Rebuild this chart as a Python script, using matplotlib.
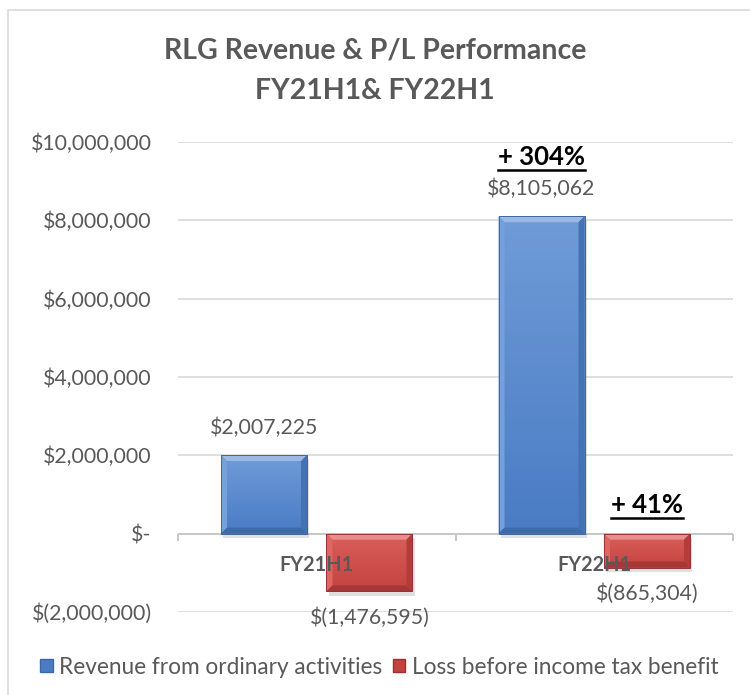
import numpy as np
import matplotlib
matplotlib.use("Agg")
import matplotlib.pyplot as plt
import matplotlib.patheffects as pe
from matplotlib.patches import Polygon, Patch, Rectangle
from matplotlib.lines import Line2D
from matplotlib.ticker import FuncFormatter, MultipleLocator

plt.rcParams['font.family'] = ['Lato', 'DejaVu Sans']

# data
categories = ['FY21H1', 'FY22H1']
series_names = ['Revenue from ordinary activities', 'Loss before income tax benefit']
revenue = [2007225, 8105062]
loss = [-1476595, -865304]
growth_labels = ['+ 304%', '+ 41%']   # FY22H1 vs FY21H1, per series
title_lines = ['RLG Revenue & P/L Performance', 'FY21H1& FY22H1']

GRAY = '#595959'
blue_top, blue_bot, blue_edge = '#6f9bd8', '#4a7cc4', '#3d67a3'
red_top, red_bot, red_edge = '#dc5f5a', '#c2423f', '#963230'

W, H = 750, 695
fig = plt.figure(figsize=(W / 100, H / 100), dpi=100)
ax = fig.add_axes([178 / W, 1 - 612 / H, (733 - 178) / W, (612 - 142) / H])

ax.set_xlim(-0.5, 1.5)
ax.set_ylim(-2e6, 1e7)


def money(v, pos=None):
    if v == 0:
        return '$-'
    if v < 0:
        return '$({:,.0f})'.format(-v)
    return '${:,.0f}'.format(v)


x = np.arange(len(categories))
bw = 0.31
off = 0.19
bars_rev = ax.bar(x - off, revenue, bw, color=blue_bot, edgecolor='none', zorder=3)
bars_loss = ax.bar(x + off, loss, bw, color=red_bot, edgecolor='none', zorder=3)


def shade(c, k):
    c = np.array(matplotlib.colors.to_rgb(c))
    if k > 0:
        return tuple(c + (1 - c) * k)
    return tuple(c * (1 + k))


def dress(bar, top, bot, edge):
    bar.set_path_effects([pe.SimplePatchShadow(offset=(1.5, -3), alpha=0.12, shadow_rgbFace='k'), pe.Normal()])
    bb = bar.get_bbox()
    x0, x1 = bb.x0, bb.x1
    y0, y1 = min(bb.y0, bb.y1), max(bb.y0, bb.y1)
    # vertical gradient inside the bar
    grad = np.linspace(0, 1, 64).reshape(-1, 1)
    cmap = matplotlib.colors.LinearSegmentedColormap.from_list('g', [bot, top])
    im = ax.imshow(grad, extent=[x0, x1, y0, y1], origin='lower', aspect='auto',
                   cmap=cmap, zorder=3.1)
    im.set_clip_path(bar)
    # bevel edges, a few px wide
    p = ax.transData.transform([[x0, y0], [x1, y1]])
    (X0, Y0), (X1, Y1) = p
    b = 6
    inv = ax.transData.inverted()
    faces = [
        ([(X0, Y1), (X1, Y1), (X1 - b, Y1 - b), (X0 + b, Y1 - b)], shade(top, 0.3)),
        ([(X0, Y0), (X0, Y1), (X0 + b, Y1 - b), (X0 + b, Y0 + b)], shade(top, 0.05)),
        ([(X1, Y0), (X1, Y1), (X1 - b, Y1 - b), (X1 - b, Y0 + b)], shade(bot, -0.08)),
        ([(X0, Y0), (X1, Y0), (X1 - b, Y0 + b), (X0 + b, Y0 + b)], shade(bot, -0.15)),
    ]
    for pts, c in faces:
        ax.add_patch(Polygon(inv.transform(pts), closed=True, fc=c, ec='none', zorder=3.2))
    ax.add_patch(Rectangle((x0, y0), x1 - x0, y1 - y0, fill=False, ec=edge, lw=0.7, zorder=3.3))


for bar in bars_rev:
    dress(bar, blue_top, blue_bot, blue_edge)
for bar in bars_loss:
    dress(bar, red_top, red_bot, red_edge)

ax.set_xlim(-0.5, 1.5)
ax.set_ylim(-2e6, 1e7)

# gridlines and axis
for s in ax.spines.values():
    s.set_visible(False)
ax.yaxis.set_major_locator(MultipleLocator(2e6))
ax.yaxis.set_major_formatter(FuncFormatter(money))
ax.grid(axis='y', color='#d9d9d9', lw=1.2, zorder=0)
ax.tick_params(axis='y', length=0, pad=19, labelsize=15.3, labelcolor=GRAY)
ax.set_xticks([])
ax.axhline(0, color='#c8c8c8', lw=1.4, zorder=2)
for bx in [-0.5, 0.5, 1.5]:
    ax.plot([bx, bx], [0, 0], marker=3, ms=5, mew=1.4, color='#c8c8c8', zorder=2, clip_on=False)

# category labels
for i, c in enumerate(categories):
    ax.annotate(c, xy=(i, 0), xytext=(0, -31 * 0.72), textcoords='offset points',
                ha='center', va='center', fontsize=14.3, fontweight='bold', color=GRAY, zorder=6)

# data labels
for bars in (bars_rev, bars_loss):
    for bar in bars:
        h = bar.get_height()
        cx = bar.get_x() + bar.get_width() / 2
        dy = 27 if h > 0 else -26
        ax.annotate(money(h), xy=(cx, h), xytext=(0, dy * 0.72), textcoords='offset points',
                    ha='center', va='center', fontsize=15.3, color=GRAY, zorder=6)

# growth call-outs above the FY22H1 bars
growth_texts = []
for bars, g in zip((bars_rev, bars_loss), growth_labels):
    bar = bars[1]
    h = max(bar.get_height(), 0)
    cx = bar.get_x() + bar.get_width() / 2
    dy = 59 if h > 0 else 29
    t = ax.annotate(g, xy=(cx, h), xytext=(0, dy * 0.72), textcoords='offset points',
                    ha='center', va='center', fontsize=18.5, fontweight='bold', color='black', zorder=6)
    growth_texts.append(t)

# title
fig.text(0.5, 1 - 50 / H, title_lines[0], ha='center', va='center', fontsize=20.5,
         fontweight='bold', color=GRAY)
fig.text(0.5, 1 - 91 / H, title_lines[1], ha='center', va='center', fontsize=20.5,
         fontweight='bold', color=GRAY)

# legend
handles = [Patch(fc=blue_bot, ec=blue_edge), Patch(fc=red_bot, ec=red_edge)]
fig.legend(handles, series_names, loc='center', bbox_to_anchor=(0.506, 1 - 667 / H), ncol=2,
           frameon=False, fontsize=16.3, labelcolor=GRAY, handlelength=0.55, handleheight=0.55,
           handletextpad=0.3, columnspacing=0.45)

# chart area border (only top/left visible in the crop)
fig.add_artist(Rectangle((8 / W, -0.1), 1.2, 1.1 - 10 / H, transform=fig.transFigure,
                         fill=False, ec='#d9d9d9', lw=1.2))

# underline the call-outs
fig.canvas.draw()
tf = fig.transFigure.inverted()
for t in growth_texts:
    bb = t.get_window_extent()
    (a, b), (c, d) = tf.transform([[bb.x0, bb.y0 - 1], [bb.x1, bb.y0 - 1]])
    fig.add_artist(Line2D([a, c], [b, d], color='black', lw=1.8, transform=fig.transFigure))

fig.savefig('out.png', dpi=100, facecolor='white')
